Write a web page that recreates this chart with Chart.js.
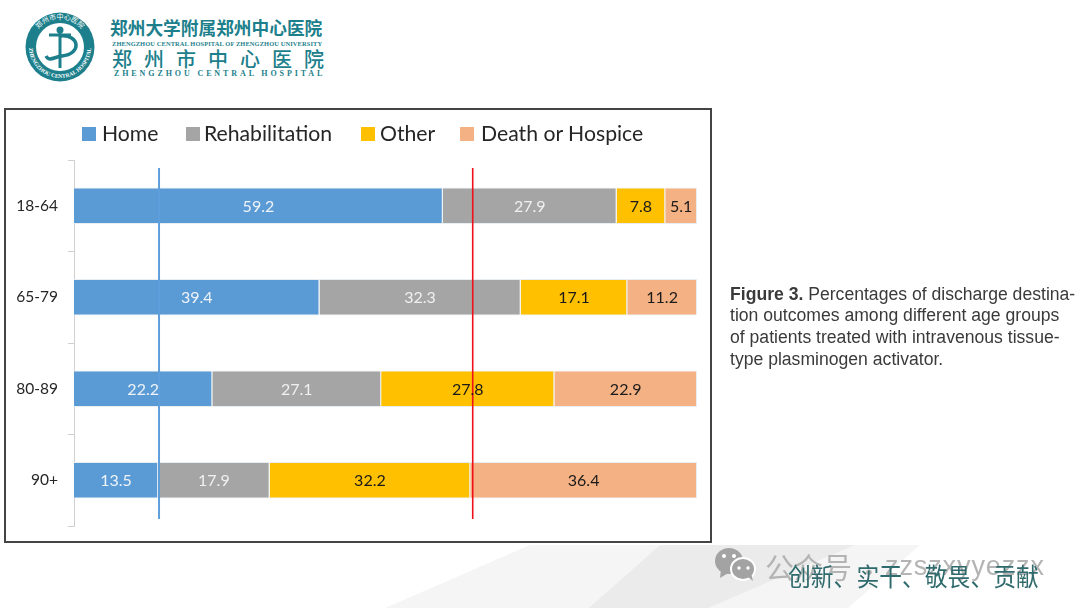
<!DOCTYPE html>
<html><head><meta charset="utf-8">
<script src="https://cdn.jsdelivr.net/npm/chart.js@4/dist/chart.umd.min.js"></script>
<style>
html,body{margin:0;padding:0;background:#fff;width:1080px;height:608px;overflow:hidden}
.a{position:absolute;white-space:nowrap;line-height:1}
#frame{position:absolute;left:4px;top:108px;width:704px;height:431px;border:2px solid #444;box-sizing:content-box}
canvas{position:absolute;left:0;top:0}
#legend span{position:absolute;font:21.2px Lato,sans-serif;color:#262626;line-height:1;white-space:nowrap}
#legend i{position:absolute;width:14px;height:14px}
.cap{position:absolute;left:730px;font:17.6px "Liberation Sans",sans-serif;color:#3a3a3a;white-space:nowrap;line-height:1}
.teal{color:#1d7f8c}
</style></head><body>
<svg class="a" style="left:0;top:0" width="1080" height="608">
<polygon points="530,545 920,545 848,608 385,608" fill="#f5f5f5"/>
<polygon points="660,545 855,545 708,608 589,608" fill="#ebebec"/>
<g>
<circle cx="60" cy="47" r="34.5" fill="#1d7f8c"/>
<circle cx="60" cy="47" r="24" fill="#fff"/>
<path d="M60 30 V68 M49 35 H71" stroke="#1d7f8c" stroke-width="3" fill="none"/>
<path d="M60 36 C80 34 82 54 62 56 C54 57 49 62 46 56" stroke="#1d7f8c" stroke-width="3.5" fill="none"/>
<circle cx="60" cy="30" r="3.5" fill="#1d7f8c"/>
<defs>
<path id="arcT" d="M32 47 A28 28 0 0 1 88 47"/>
<path id="arcB" d="M29 47 A31 31 0 0 0 91 47"/>
</defs>
<text font-family="Noto Sans CJK SC" font-size="7" fill="#fff" text-anchor="middle"><textPath href="#arcT" startOffset="50%">郑州市中心医院</textPath></text>
<text font-family="Liberation Serif" font-size="5.6" font-weight="700" fill="#fff" text-anchor="middle"><textPath href="#arcB" startOffset="50%">ZHENGZHOU CENTRAL HOSPITAL</textPath></text>
</g>
<g fill="#a3a3a3">
<ellipse cx="729" cy="561" rx="14" ry="13"/><polygon points="721,570 720,578 730,572"/>
<ellipse cx="743" cy="569" rx="12" ry="11" stroke="#fff" stroke-width="2"/><polygon points="748,577 753,581 751,573"/>
</g>
<g fill="#fff"><circle cx="724" cy="556" r="2"/><circle cx="734" cy="556" r="2"/><circle cx="739" cy="568" r="1.7"/><circle cx="748" cy="568" r="1.7"/></g>
</svg>
<div class="a teal" style="left:110px;top:14px;font:700 17.7px 'Noto Sans CJK SC';">郑州大学附属郑州中心医院</div>
<div class="a teal" style="left:112px;top:40px;font:700 6.4px 'Liberation Serif';letter-spacing:.13px">ZHENGZHOU CENTRAL HOSPITAL OF ZHENGZHOU UNIVERSITY</div>
<div class="a teal" style="left:112px;top:44px;font:500 20px 'Noto Sans CJK SC';letter-spacing:12px">郑州市中心医院</div>
<div class="a teal" style="left:114px;top:69px;font:700 8px 'Liberation Serif';letter-spacing:2.9px">ZHENGZHOU CENTRAL HOSPITAL</div>
<div id="frame"></div>
<canvas id="c" width="1080" height="608" style="width:1080px;height:608px"></canvas>
<div id="legend"></div>
<div class="cap" style="top:285.5px"><b>Figure 3.</b> Percentages of discharge destina-</div>
<div class="cap" style="top:307px">tion outcomes among different age groups</div>
<div class="cap" style="top:328.5px">of patients treated with intravenous tissue-</div>
<div class="cap" style="top:350.5px">type plasminogen activator.</div>
<div class="a" style="left:765px;top:545px;font:29px 'Noto Sans CJK SC';color:#b4b4b4">公众号</div>
<div class="a" style="left:856px;top:552px;font:26px 'Noto Sans CJK SC';color:#b4b4b4">·</div>
<div class="a" style="left:885px;top:551px;font:27px 'Liberation Sans';color:#b4b4b4;letter-spacing:.9px">zzszxyyezzx</div>
<div class="a" style="left:788px;top:559px;font:22.8px 'Noto Sans CJK SC';color:#2f6a6c;transform:scaleY(1.1);transform-origin:0 50%">创新、实干、敬畏、贡献</div>
<script>
const categories = ['18-64','65-79','80-89','90+'];
const seriesNames = ['Home','Rehabilitation','Other','Death or Hospice'];
const home = [59.2,39.4,22.2,13.5];
const rehabilitation = [27.9,32.3,27.1,17.9];
const other = [7.8,17.1,27.8,32.2];
const deathOrHospice = [5.1,11.2,22.9,36.4];
const seriesColors = ['#5b9bd5','#a5a5a5','#ffc000','#f4b183'];
const labelColors = ['#eef3f8','#f0f0f0','#1a1a1a','#1a1a1a'];
const refLineValues = [13.65,64];
const refLineColors = ['#5e9edb','#f0101a'];
const refLineWidths = [2,1.6];
const legendBoxX = [82,186,361,460];
const legendTextX = [102,204,380,481];

const lg = document.getElementById('legend');
seriesNames.forEach((n,i)=>{
  const b=document.createElement('i');b.style.cssText=`left:${legendBoxX[i]}px;top:127px;background:${seriesColors[i]}`;lg.appendChild(b);
  const s=document.createElement('span');s.textContent=n;s.style.left=legendTextX[i]+'px';s.style.top='123px';lg.appendChild(s);
});

const overlays = {
  id:'overlays',
  afterDatasetsDraw(chart){
    const ctx=chart.ctx, xs=chart.scales.x, area=chart.chartArea;
    ctx.save();
    refLineValues.forEach((v,i)=>{
      const px=xs.getPixelForValue(v);
      ctx.strokeStyle=refLineColors[i];ctx.lineWidth=refLineWidths[i];
      ctx.beginPath();ctx.moveTo(px,area.top+8);ctx.lineTo(px,area.bottom-7);ctx.stroke();
    });
    ctx.font='16px Lato, sans-serif';ctx.textAlign='center';ctx.textBaseline='middle';
    chart.data.datasets.forEach((d,i)=>{
      chart.getDatasetMeta(i).data.forEach((el,j)=>{
        ctx.fillStyle=labelColors[i];
        ctx.fillText(d.data[j].toFixed(1),(el.x+el.base)/2,el.y+1);
      });
    });
    ctx.restore();
  }
};
const values=[home,rehabilitation,other,deathOrHospice];
new Chart(document.getElementById('c'),{
  type:'bar',
  data:{labels:categories,datasets:values.map((v,i)=>({label:seriesNames[i],data:v,backgroundColor:seriesColors[i],borderColor:'#e8edf2',borderWidth:{left:0,top:1,bottom:1,right:1},borderSkipped:false,barPercentage:0.4,categoryPercentage:1}))},
  options:{
    indexAxis:'y',responsive:false,animation:false,devicePixelRatio:1,
    layout:{padding:{left:0,top:160,right:383,bottom:82}},
    plugins:{legend:{display:false},tooltip:{enabled:false},title:{display:false}},
    scales:{
      x:{type:'linear',stacked:true,min:0,max:100,display:false},
      y:{type:'category',stacked:true,position:'left',
        afterFit(s){s.width=74;},
        border:{display:true,color:'#d0d0d0',width:1},
        grid:{display:true,drawOnChartArea:false,drawTicks:true,tickLength:6,color:'#d0d0d0',offset:true},
        ticks:{color:'#262626',font:{family:'Lato, sans-serif',size:15.5},padding:10}
      }
    }
  },
  plugins:[overlays]
});
</script>
</body></html>
